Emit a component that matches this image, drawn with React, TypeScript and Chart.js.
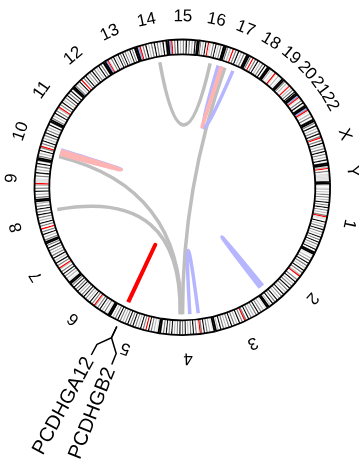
import { useEffect, useRef } from "react";
import { Chart, registerables } from "chart.js";

Chart.register(...registerables);

// Chromosomes (hg19 lengths, Mb)
const CHROMS = ["1","2","3","4","5","6","7","8","9","10","11","12","13","14","15","16","17","18","19","20","21","22","X","Y"];
const CHROM_MB = [249.25,243.2,198.0,191.15,180.9,171.1,159.1,146.4,141.2,135.5,135.0,133.85,115.2,107.35,102.5,90.35,81.2,78.1,59.1,63.0,48.1,51.3,155.3,59.4];

// Approximate cytoband stains, equal-width bands per chromosome
// 0 gneg, 1 gpos25, 2 gpos50, 3 gpos75, 4 gpos100, r acen, v gvar, s stalk
const BANDS = [
  "0101202030302040304030203rvv04020304030204030403020403",
  "010203040302040302r003040203040302040302040304020",
  "010203040302030403r030402030403020304020",
  "0102030403rv0304030204030403020403040302",
  "010203040r0304020304030403020304030204",
  "010302040302r03040203040302040304030",
  "010203040302r0304020403020304030",
  "030204030r0304020304030403020",
  "0302040302rvvv030402030403",
  "03020403r030402030403020403",
  "0302040302r0304020304030403",
  "0302040r03040203040302040304",
  "ssrv0304020403040302040304",
  "ssr030402030403020403",
  "ssr03040203040302040",
  "0302040rvv0304020304",
  "03020r0304020304",
  "030r030402030403",
  "02010rv02010",
  "030201r0203040",
  "ssrv030402",
  "ssrv020302",
  "030402030403r030402030403020403",
  "02r030vvvvvv",
];
const STAIN_COLORS: Record<string, string> = {
  "0": "#ffffff", "1": "#e2e2e2", "2": "#bdbdbd", "3": "#808080", "4": "#111111",
  r: "#ff0000", v: "#e0e0e0", s: "#8fa0dc",
};

// Links (chromosome, position Mb)
const LINK_CHR_A = ["14","17","10","8","16","4","2","10","10","17","5"];
const LINK_MB_A  = [70.9, 21.4, 22.5, 105, 88.5, 48.5, 213, 36, 33, 6, 142.0];
const LINK_CHR_B = ["16","4","4","4","17","4","2","10","10","17","5"];
const LINK_MB_B  = [55, 112, 118, 122, 56.3, 82.6, 227, 50, 47, 9, 142.6];
const LINK_KIND  = ["gray","gray","gray","gray","blue","blue","blue","blue","pink","pink","red"];
const LINK_COLORS: Record<string, string> = { gray: "#bebebe", blue: "#b6b6ff", pink: "#ffb4b4", red: "#ff0000" };

// Gene labels
const GENE_NAMES = ["PCDHGA12", "PCDHGB2"];
const GENE_CHR = ["5", "5"];
const GENE_MB = [142.3, 142.3];
const GENE_LABEL_MB = [171.8, 110.9];

const START_DEG = 88.5;
const GAP_MB = 5.4;
const FONT = "'Liberation Sans', Arial, Helvetica, sans-serif";

export default function App() {
  const ref = useRef<HTMLCanvasElement>(null);

  useEffect(() => {
    const values: number[] = [];
    const colors: string[] = [];
    const first: number[] = [];
    const last: number[] = [];
    CHROMS.forEach((_c, i) => {
      const pat = BANDS[i];
      const w = CHROM_MB[i] / pat.length;
      first.push(values.length);
      for (const ch of pat) {
        values.push(w);
        colors.push(STAIN_COLORS[ch]);
      }
      last.push(values.length - 1);
      values.push(GAP_MB);
      colors.push("rgba(0,0,0,0)");
    });

    const circos = {
      id: "circos",
      afterDatasetsDraw(chart: any) {
        const ctx = chart.ctx as CanvasRenderingContext2D;
        const arcs = chart.getDatasetMeta(0).data as any[];
        const cx = arcs[0].x, cy = arcs[0].y;
        const rin = arcs[0].innerRadius, rout = arcs[0].outerRadius;
        const ang = (chr: string, mb: number) => {
          const i = CHROMS.indexOf(chr);
          const s = arcs[first[i]].startAngle;
          const e = arcs[last[i]].endAngle;
          return s + ((e - s) * mb) / CHROM_MB[i];
        };
        const pt = (a: number, r: number): [number, number] => [cx + r * Math.cos(a), cy + r * Math.sin(a)];

        ctx.save();
        // chromosome outlines
        ctx.strokeStyle = "#000";
        ctx.lineWidth = 1.8;
        CHROMS.forEach((_c, i) => {
          const s = arcs[first[i]].startAngle;
          const e = arcs[last[i]].endAngle;
          ctx.beginPath();
          ctx.arc(cx, cy, rout, s, e);
          ctx.arc(cx, cy, rin, e, s, true);
          ctx.closePath();
          ctx.stroke();
        });

        // chromosome labels
        ctx.fillStyle = "#000";
        ctx.font = `17px ${FONT}`;
        ctx.textAlign = "center";
        ctx.textBaseline = "middle";
        CHROMS.forEach((c, i) => {
          const a = (arcs[first[i]].startAngle + arcs[last[i]].endAngle) / 2;
          const [x, y] = pt(a, rout + 23);
          ctx.save();
          ctx.translate(x, y);
          ctx.rotate(a + Math.PI / 2);
          ctx.fillText(c, 0, 0);
          ctx.restore();
        });

        // links
        const order = ["gray", "blue", "pink", "red"];
        const rl = rin - 6;
        order.forEach((kind) => {
          LINK_KIND.forEach((k, j) => {
            if (k !== kind) return;
            const p0 = pt(ang(LINK_CHR_A[j], LINK_MB_A[j]), rl);
            const p2 = pt(ang(LINK_CHR_B[j], LINK_MB_B[j]), rl);
            ctx.beginPath();
            ctx.moveTo(p0[0], p0[1]);
            ctx.quadraticCurveTo(cx, cy, p2[0], p2[1]);
            ctx.strokeStyle = LINK_COLORS[k];
            ctx.lineWidth = k === "red" ? 4 : 3.5;
            ctx.lineCap = "butt";
            ctx.lineJoin = "round";
            ctx.stroke();
          });
        });

        // gene labels
        ctx.strokeStyle = "#000";
        ctx.lineWidth = 1.5;
        ctx.font = `20px ${FONT}`;
        ctx.textAlign = "right";
        ctx.textBaseline = "middle";
        GENE_NAMES.forEach((g, j) => {
          const a0 = ang(GENE_CHR[j], GENE_MB[j]);
          const aL = ang(GENE_CHR[j], GENE_LABEL_MB[j]);
          const q1 = pt(a0, rout + 6);
          const q2 = pt(a0, rout + 18.5);
          const q3 = pt(aL, rout + 31);
          const q4 = pt(aL, rout + 43);
          ctx.beginPath();
          ctx.moveTo(q1[0], q1[1]);
          ctx.lineTo(q2[0], q2[1]);
          ctx.lineTo(q3[0], q3[1]);
          ctx.lineTo(q4[0], q4[1]);
          ctx.stroke();
          const [tx, ty] = pt(aL, rout + 47);
          ctx.save();
          ctx.translate(tx, ty);
          ctx.rotate(aL + Math.PI);
          ctx.fillText(g, 0, 0);
          ctx.restore();
        });
        ctx.restore();
      },
    };

    const chart = new Chart(ref.current as HTMLCanvasElement, {
      type: "doughnut",
      data: {
        labels: values.map((_v, i) => String(i)),
        datasets: [{ data: values, backgroundColor: colors, borderWidth: 0, hoverOffset: 0 }],
      },
      options: {
        animation: false,
        responsive: false,
        rotation: START_DEG,
        cutout: 133,
        events: [],
        layout: { padding: { left: 34.5, right: 28.9, top: 39.5, bottom: 132.9 } },
        plugins: { legend: { display: false }, tooltip: { enabled: false } },
      } as any,
      plugins: [circos],
    });
    return () => chart.destroy();
  }, []);

  return (
    <div style={{ position: "absolute", left: 0, top: 0, width: 359, height: 468, background: "#fff" }}>
      <canvas ref={ref} width={359} height={468} />
    </div>
  );
}
